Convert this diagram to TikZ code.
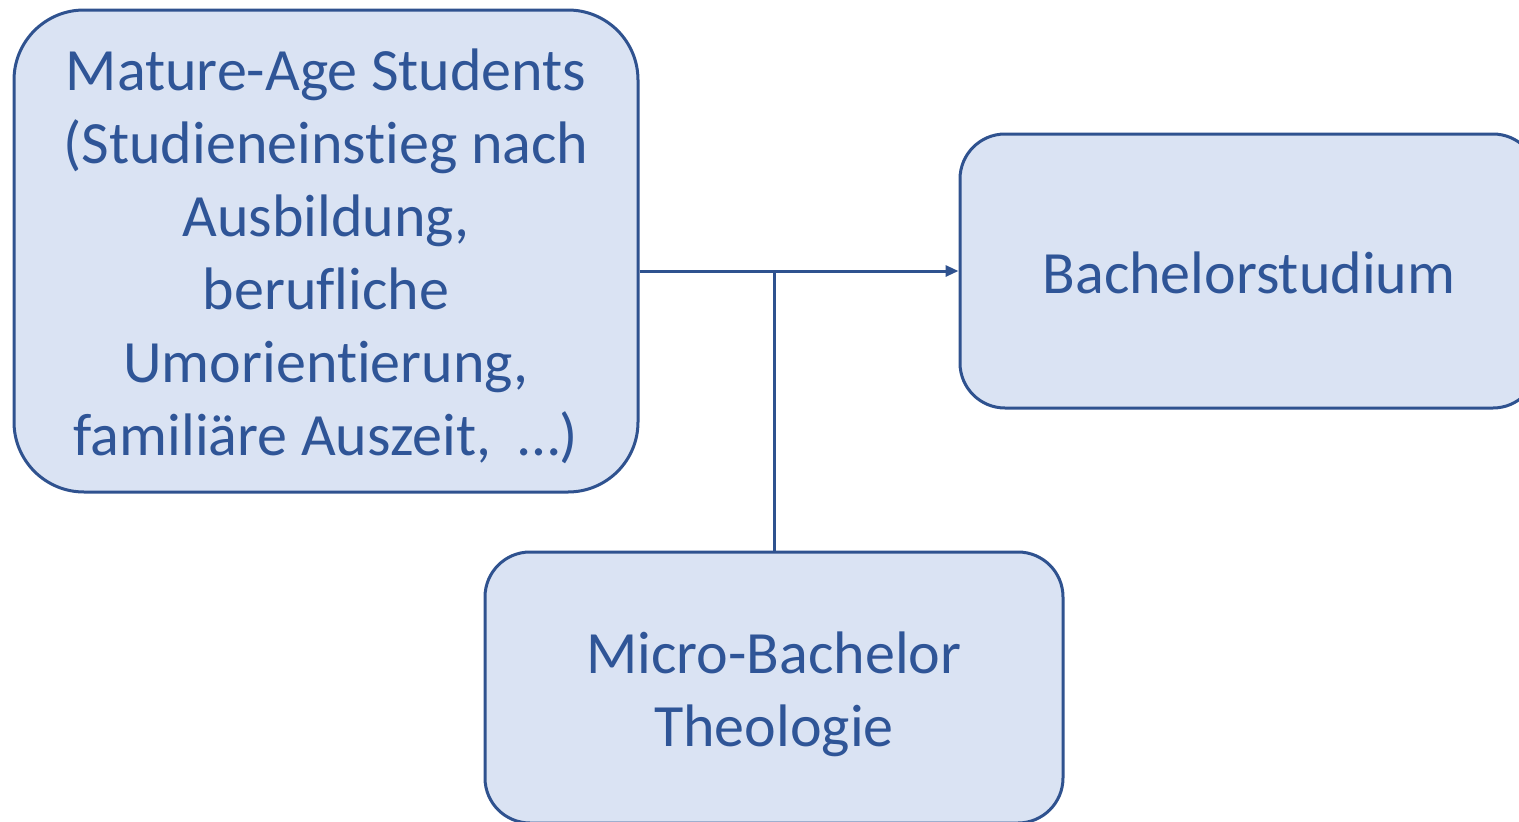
\documentclass[tikz,border=0pt]{standalone}
\usepackage{fontspec}
\setmainfont{Carlito}[Ligatures={NoCommon}]
\usetikzlibrary{arrows.meta}
\definecolor{boxfill}{HTML}{DAE3F3}
\definecolor{boxline}{HTML}{2F528F}
\definecolor{txt}{HTML}{2F5597}
\begin{document}
\begin{tikzpicture}[x=1pt,y=-1pt,
  box/.style={draw=boxline, fill=boxfill, line width=3pt, inner sep=0pt},
  lbl/.style={text=txt, align=center, font=\fontsize{60}{73}\selectfont, inner sep=0pt},
  conn/.style={draw=boxline, line width=3pt}]
\useasboundingbox (0,0) rectangle (1519,822);
\node[box, rounded corners=70pt, minimum width=624pt, minimum height=482pt] (A) at (326,251) {};
\node[lbl] (At) at (326,256)
  {Mature-Age Students\\(Studieneinstieg nach\\Ausbildung,\\berufliche\\Umorientierung,\\familiäre Auszeit,\ \ …)};
\node[box, rounded corners=45pt, minimum width=578pt, minimum height=274pt] (B) at (1249,271) {};
\node[lbl] (Bt) at (1249,273) {Bachelorstudium};
\node[box, rounded corners=45pt, minimum width=578pt, minimum height=271pt] (C) at (774,687.5) {};
\node[lbl] (Ct) at (774,694) {Micro-Bachelor\\Theologie};
\draw[conn, -{Triangle[length=13pt,width=11pt]}] (A.east |- B.west) -- (B.west);
\draw[conn] (C.north) -- (C.north |- B.west);
\end{tikzpicture}
\end{document}
